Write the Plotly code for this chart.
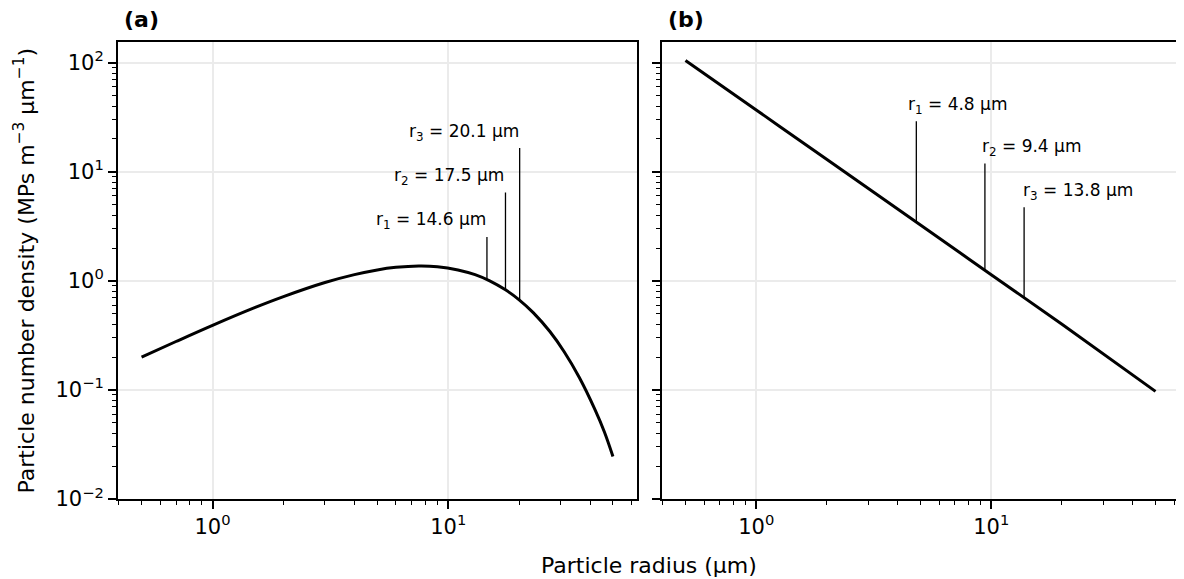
import math

import plotly.graph_objects as go

FONT = "DejaVu Sans"

# panel (a): size distribution
radius_a = [0.5, 0.7, 1, 1.5, 2, 3, 4, 5, 6, 7.5, 9, 11, 13, 15, 17.5,
            20, 23, 27, 31, 36, 42, 46, 50]
density_a = [0.20, 0.278, 0.391, 0.565, 0.717, 0.965, 1.14, 1.26, 1.33, 1.37,
             1.35, 1.26, 1.14, 1.00, 0.827, 0.670, 0.509, 0.343, 0.225, 0.130,
             0.0656, 0.0411, 0.0245]
marker_r_a = [14.6, 17.5, 20.1]
marker_base_a = [1.03, 0.83, 0.665]
marker_top_a = [2.53, 6.45, 16.5]

# panel (b): power law
radius_b = [0.5, 1, 2, 5, 10, 20, 50]
density_b = [105, 36.9, 12.95, 3.25, 1.14, 0.40, 0.097]
marker_r_b = [4.8, 9.4, 13.8]
marker_base_b = [3.42, 1.25, 0.70]
marker_top_b = [29.1, 11.9, 4.72]

x_tickvals = [1, 10]
x_ticktext = ["10<sup>0</sup>", "10<sup>1</sup>"]
y_tickvals = [0.01, 0.1, 1, 10, 100]
y_ticktext = ["10<sup>−2</sup>", "10<sup>−1</sup>", "10<sup>0</sup>",
              "10<sup>1</sup>", "10<sup>2</sup>"]

x_minor = [m * 10 ** e for e in (-1, 0, 1) for m in range(2, 10)]
y_minor = [m * 10 ** e for e in (-2, -1, 0, 1, 2) for m in range(2, 10)]

fig = go.Figure()

panels = [
    ("x", "y", radius_a, density_a, marker_r_a, marker_base_a, marker_top_a),
    ("x2", "y2", radius_b, density_b, marker_r_b, marker_base_b, marker_top_b),
]

for xa, ya, rr, dd, mr, mb, mt in panels:
    fig.add_trace(go.Scatter(
        x=rr, y=dd, mode="lines", xaxis=xa, yaxis=ya,
        line=dict(color="black", width=3, shape="spline"), showlegend=False,
    ))
    for r, b, t in zip(mr, mb, mt):
        fig.add_trace(go.Scatter(
            x=[r, r], y=[b, t], mode="lines", xaxis=xa, yaxis=ya,
            line=dict(color="black", width=1.3), showlegend=False,
        ))

annotations = []
# labels (a): right-aligned on the line
for i, (r, t) in enumerate(zip(marker_r_a, marker_top_a)):
    annotations.append(dict(
        x=math.log10(r), y=math.log10(t), xref="x", yref="y",
        text=f"r<sub>{i + 1}</sub> = {r} μm", showarrow=False,
        xanchor="right", yanchor="middle", xshift=1, yshift=16,
        font=dict(family=FONT, size=17, color="black"),
    ))
# labels (b): left-aligned just left of the line
shifts_b = [-10, -5, -3]
for i, (r, t) in enumerate(zip(marker_r_b, marker_top_b)):
    annotations.append(dict(
        x=math.log10(r), y=math.log10(t), xref="x2", yref="y2",
        text=f"r<sub>{i + 1}</sub> = {r} μm", showarrow=False,
        xanchor="left", yanchor="middle", xshift=shifts_b[i], yshift=16,
        font=dict(family=FONT, size=17, color="black"),
    ))

for lab, ref in (("(a)", "x domain"), ("(b)", "x2 domain")):
    annotations.append(dict(
        text=f"<b>{lab}</b>", x=0, y=1, xref=ref, yref="paper",
        xanchor="left", yanchor="middle", xshift=5, yshift=23,
        showarrow=False, borderpad=0,
        font=dict(family=FONT, size=22, color="black"),
    ))

annotations.append(dict(
    text="Particle radius (μm)", x=0.5, y=0, xref="paper", yref="paper",
    xanchor="center", yanchor="top", yshift=-53, showarrow=False, borderpad=0,
    font=dict(family=FONT, size=22, color="black"),
))
annotations.append(dict(
    text="Particle number density (MPs m<sup>−3</sup> μm<sup>−1</sup>)",
    x=-0.0886, y=0.5, xref="paper", yref="paper", textangle=-90,
    xanchor="center", yanchor="middle", showarrow=False,
    font=dict(family=FONT, size=22, color="black"),
))

x_range = [math.log10(0.5) - 0.1, math.log10(50) + 0.1]
y_range = [-2, 2.19]

xaxis_style = dict(
    type="log", range=x_range, tickvals=x_tickvals, ticktext=x_ticktext,
    ticks="outside", ticklen=8, tickwidth=1.6, tickcolor="black",
    showline=True, linecolor="black", linewidth=2, mirror=True,
    showgrid=True, gridcolor="#ebebeb", gridwidth=1.5, zeroline=False,
    automargin=False,
    tickfont=dict(family=FONT, size=21, color="black"),
    minor=dict(tickvals=x_minor, ticks="outside", ticklen=4, tickwidth=1.2,
               tickcolor="black", showgrid=False),
)
yaxis_style = dict(
    type="log", range=y_range, tickvals=y_tickvals, ticktext=y_ticktext,
    ticks="outside", ticklen=8, tickwidth=1.6, tickcolor="black",
    showline=True, linecolor="black", linewidth=2, mirror=True,
    showgrid=True, gridcolor="#ebebeb", gridwidth=1.5, zeroline=False,
    automargin=False,
    tickfont=dict(family=FONT, size=21, color="black"),
    minor=dict(tickvals=y_minor, ticks="outside", ticklen=4, tickwidth=1.2,
               tickcolor="black", showgrid=False),
)

# the page body adds an 8px margin, so the figure is drawn 8px smaller
fig.update_layout(
    width=1176, height=571,
    margin=dict(l=110, r=5, t=34, b=80),
    paper_bgcolor="white", plot_bgcolor="white",
    font=dict(family=FONT, color="black"),
    xaxis=dict(domain=[0, 0.4887], anchor="y", **xaxis_style),
    yaxis=dict(domain=[0, 1], anchor="x", **yaxis_style),
    xaxis2=dict(domain=[0.5127, 1], anchor="y2", **xaxis_style),
    yaxis2=dict(domain=[0, 1], anchor="x2", showticklabels=False, **yaxis_style),
    annotations=annotations,
)

fig.write_html("out.html")
